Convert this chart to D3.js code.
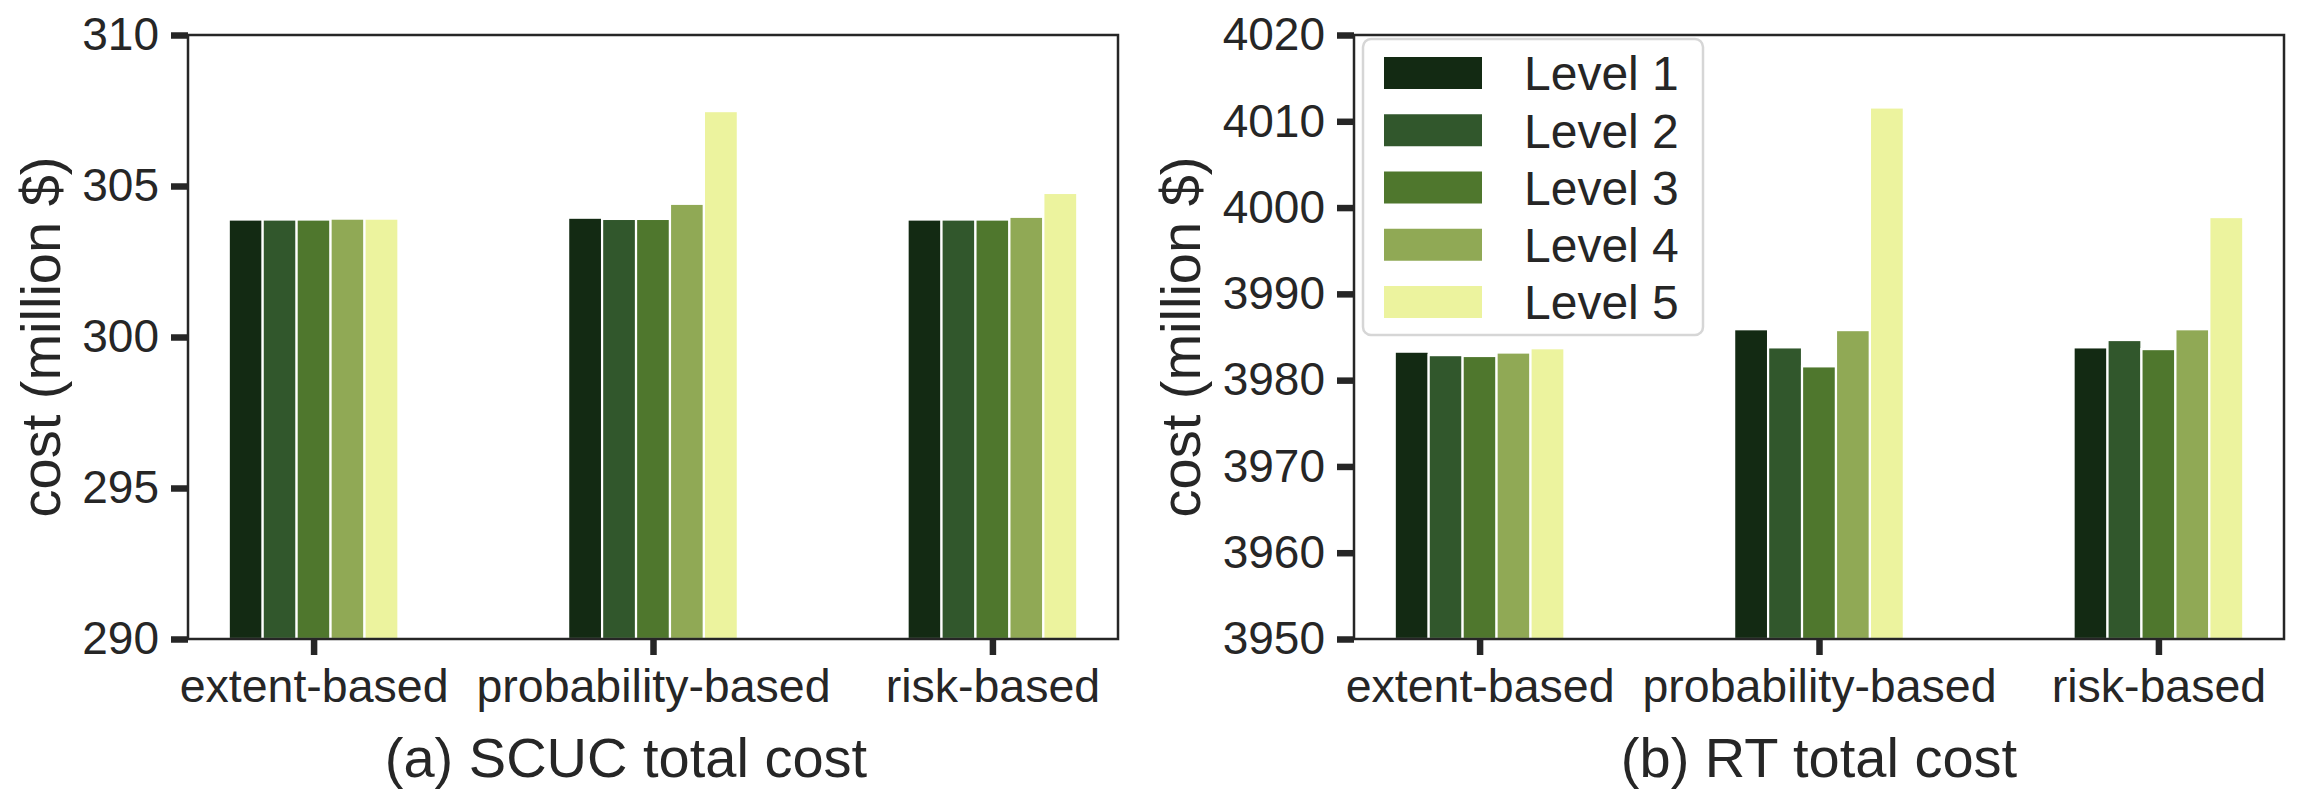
<!DOCTYPE html>
<html>
<head>
<meta charset="utf-8">
<script src="https://cdn.jsdelivr.net/npm/d3@7"></script>
<style>
  html, body { margin: 0; padding: 0; background: #ffffff; }
  svg { display: block; }
  text { font-family: "Liberation Sans", Arial, sans-serif; fill: #262626; }
</style>
</head>
<body>
<svg id="chart" width="2298" height="793"></svg>
<script>
// ---------------- data ----------------
const categories = ["extent-based", "probability-based", "risk-based"];
const levels = ["Level 1", "Level 2", "Level 3", "Level 4", "Level 5"];
const colors = ["#132a13", "#31572c", "#4f772d", "#90a955", "#ecf39e"];

// (a) SCUC total cost, million $
const scucLevel1 = [303.89, 303.95, 303.89];
const scucLevel2 = [303.89, 303.91, 303.89];
const scucLevel3 = [303.89, 303.91, 303.89];
const scucLevel4 = [303.92, 304.41, 303.98];
const scucLevel5 = [303.92, 307.48, 304.77];
const scucTicks = [290, 295, 300, 305, 310];

// (b) RT total cost, million $
const rtLevel1 = [3983.3, 3985.9, 3983.8];
const rtLevel2 = [3982.9, 3983.8, 3984.65];
const rtLevel3 = [3982.8, 3981.6, 3983.6];
const rtLevel4 = [3983.2, 3985.8, 3985.9];
const rtLevel5 = [3983.7, 4011.6, 3998.9];
const rtTicks = [3950, 3960, 3970, 3980, 3990, 4000, 4010, 4020];

const panels = [
  { series: [scucLevel1, scucLevel2, scucLevel3, scucLevel4, scucLevel5],
    ticks: scucTicks, domain: [290, 310], title: "(a) SCUC total cost",
    left: 188, right: 1118, titleX: 626, ylabelX: 60, legend: false },
  { series: [rtLevel1, rtLevel2, rtLevel3, rtLevel4, rtLevel5],
    ticks: rtTicks, domain: [3950, 4020], title: "(b) RT total cost",
    left: 1354, right: 2284, titleX: 1819, ylabelX: 1200, legend: true }
];

// ---------------- drawing ----------------
const svg = d3.select("#chart");
const plotTop = 35, plotBottom = 639;
const ink = "#262626";
const barWidth = 0.1; // in category units (5 x 0.1 = 0.5 per group)

panels.forEach(p => {
  const g = svg.append("g");
  const x = d3.scaleLinear().domain([-0.37, categories.length - 1 + 0.37]).range([p.left, p.right]);
  const y = d3.scaleLinear().domain(p.domain).range([plotBottom, plotTop]);

  const clipId = "clip" + p.left;
  svg.append("clipPath").attr("id", clipId)
    .append("rect").attr("x", p.left).attr("y", plotTop).attr("width", p.right - p.left).attr("height", plotBottom - plotTop);

  const barsG = g.append("g").attr("clip-path", `url(#${clipId})`);
  p.series.forEach((vals, li) => {
    barsG.selectAll(null)
      .data(vals.map((v, ci) => ({ v, ci })))
      .enter().append("rect")
      .attr("x", d => x(d.ci - 0.25 + li * barWidth))
      .attr("width", d => x(barWidth) - x(0))
      .attr("y", d => y(d.v))
      .attr("height", d => y(p.domain[0]) - y(d.v))
      .attr("fill", colors[li])
      .attr("stroke", "#ffffff")
      .attr("stroke-width", 2.2);
  });

  // y axis
  const yAxis = d3.axisLeft(y).tickValues(p.ticks).tickSize(17).tickPadding(12).tickFormat(d3.format("d"));
  const ya = g.append("g").attr("transform", `translate(${p.left},0)`).call(yAxis);
  ya.select(".domain").remove();
  ya.selectAll(".tick line").attr("stroke", ink).attr("stroke-width", 6.5);
  ya.selectAll(".tick text").attr("font-size", 46).attr("fill", ink)
    .attr("font-family", "'Liberation Sans', Arial, sans-serif");

  // x axis
  const xAxis = d3.axisBottom(x).tickValues(d3.range(categories.length)).tickSize(16).tickPadding(14)
    .tickFormat(i => categories[i]);
  const xa = g.append("g").attr("transform", `translate(0,${plotBottom})`).call(xAxis);
  xa.select(".domain").remove();
  xa.selectAll(".tick line").attr("stroke", ink).attr("stroke-width", 6.5);
  xa.selectAll(".tick text").attr("font-size", 46.5).attr("fill", ink)
    .attr("font-family", "'Liberation Sans', Arial, sans-serif");

  // frame (spines)
  g.append("rect").attr("x", p.left).attr("y", plotTop)
    .attr("width", p.right - p.left).attr("height", plotBottom - plotTop)
    .attr("fill", "none").attr("stroke", ink).attr("stroke-width", 2.5);

  // y label
  g.append("text")
    .attr("transform", `translate(${p.ylabelX},${(plotTop + plotBottom) / 2}) rotate(-90)`)
    .attr("text-anchor", "middle")
    .attr("font-size", 56)
    .text("cost (million $)");

  // x title
  g.append("text")
    .attr("x", p.titleX)
    .attr("y", 777)
    .attr("text-anchor", "middle")
    .attr("font-size", 56)
    .text(p.title);

  // legend
  if (p.legend) {
    const lg = g.append("g");
    lg.append("rect").attr("x", 1363).attr("y", 39).attr("width", 340).attr("height", 296)
      .attr("rx", 8).attr("fill", "#ffffff").attr("fill-opacity", 0.8)
      .attr("stroke", "#d6d6d6").attr("stroke-width", 2.5);
    const row = d3.scaleLinear().domain([0, levels.length - 1]).range([73, 302]);
    levels.forEach((lv, i) => {
      lg.append("rect").attr("x", 1384).attr("y", row(i) - 16).attr("width", 98).attr("height", 32)
        .attr("fill", colors[i]);
      lg.append("text").attr("x", 1524).attr("y", row(i)).attr("dy", "0.36em")
        .attr("font-size", 48).text(lv);
    });
  }
});
</script>
</body>
</html>
